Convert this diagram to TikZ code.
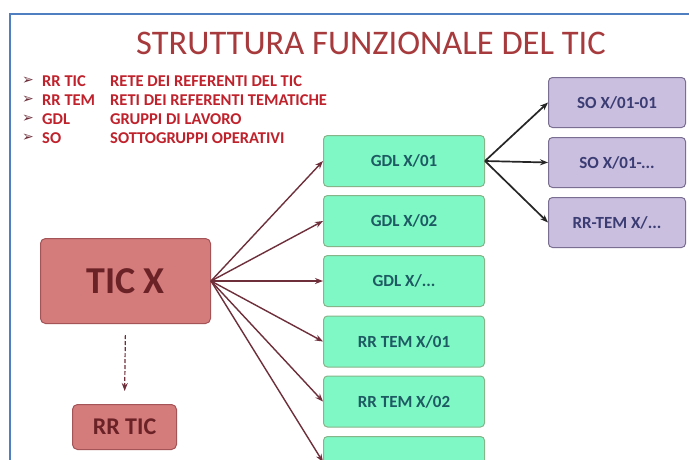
\documentclass[tikz,border=0pt]{standalone}
\usepackage{fontspec}
\setmainfont{Carlito}
\newfontfamily\dejavu{DejaVu Sans}
\usetikzlibrary{positioning,arrows.meta}

\definecolor{framblue}{HTML}{4F7FC0}
\definecolor{titlered}{HTML}{A63A3C}
\definecolor{legendred}{HTML}{C0222C}
\definecolor{ticfill}{HTML}{D47B7C}
\definecolor{ticborder}{HTML}{A45457}
\definecolor{tictext}{HTML}{6B2226}
\definecolor{gdlfill}{HTML}{80F8C5}
\definecolor{gdlborder}{HTML}{86B58A}
\definecolor{gdltext}{HTML}{1D5A63}
\definecolor{sofill}{HTML}{CABFDF}
\definecolor{soborder}{HTML}{7A6F92}
\definecolor{sotext}{HTML}{3A3C73}
\definecolor{ticarrow}{HTML}{6E2F3B}

\tikzset{
  ticbox/.style={draw=ticborder, fill=ticfill, rounded corners=5pt, line width=1pt, text=tictext},
  gdlbox/.style={draw=gdlborder, fill=gdlfill, rounded corners=4pt, line width=1pt,
    minimum width=161pt, minimum height=51pt, text=gdltext, font=\fontsize{17}{20}\selectfont\bfseries},
  sobox/.style={draw=soborder, fill=sofill, rounded corners=4pt, line width=1pt,
    minimum width=137pt, minimum height=50pt, text=sotext, font=\fontsize{17}{20}\selectfont\bfseries},
  abbr/.style={anchor=west, inner sep=0pt, text=legendred, font=\fontsize{16.5}{18}\selectfont\bfseries},
  bullet/.style={anchor=west, inner sep=0pt, text=ticarrow, font=\dejavu\fontsize{14}{15}\selectfont},
  tip/.style={-{Stealth[length=8pt,width=6pt]}},
}

\begin{document}
\begin{tikzpicture}[x=1pt, y=-1pt]
  \useasboundingbox (0,0) rectangle (689,459);
  \clip (0,0) rectangle (689,459);
  \fill[white] (0,0) rectangle (689,459);
  % frame
  \draw[framblue, line width=2pt] (10,470) -- (10,14) -- (700,14);

  \node[text=titlered, font=\fontsize{34.5}{38}\selectfont] (title) at (371,43) {STRUTTURA FUNZIONALE DEL TIC};

  % legend
  \node[bullet] (b1) at (22,81) {➢};
  \node[bullet] (b2) at (22,100) {➢};
  \node[bullet] (b3) at (22,119) {➢};
  \node[bullet] (b4) at (22,138) {➢};
  \node[abbr] (rrtic-k) at (42,81) {RR TIC};
  \node[abbr] (rrtem-k) at (42,100) {RR TEM};
  \node[abbr] (gdl-k) at (42,119) {GDL};
  \node[abbr] (so-k) at (42,138) {SO};
  \node[abbr] (rrtic-v) at (110,81) {RETE DEI REFERENTI DEL TIC};
  \node[abbr] (rrtem-v) at (110,100) {RETI DEI REFERENTI TEMATICHE};
  \node[abbr] (gdl-v) at (110,119) {GRUPPI DI LAVORO};
  \node[abbr] (so-v) at (110,138) {SOTTOGRUPPI OPERATIVI};

  % main boxes
  \node[ticbox, minimum width=170pt, minimum height=85pt, font=\fontsize{38}{40}\selectfont\bfseries] (tic) at (125.5,281) {TIC X};
  \node[ticbox, minimum width=104pt, minimum height=45pt, font=\fontsize{24}{26}\selectfont\bfseries] (rrtic) at (124.5,427) {RR TIC};

  \node[gdlbox] (gdl1) at (404,161) {GDL X/01};
  \node[gdlbox] (gdl2) at (404,221) {GDL X/02};
  \node[gdlbox] (gdl3) at (404,281) {GDL X/...};
  \node[gdlbox] (tem1) at (404,341.5) {RR TEM X/01};
  \node[gdlbox] (tem2) at (404,401.5) {RR TEM X/02};
  \node[gdlbox] (tem3) at (404,462) {};

  \node[sobox] (so1) at (617,102.5) {SO X/01-01};
  \node[sobox] (so2) at (617,162.5) {SO X/01-...};
  \node[sobox] (so3) at (617,222.5) {RR-TEM X/...};

  % connectors
  \draw[tip, ticarrow, line width=1.2pt, dash pattern=on 4pt off 2pt, shorten <=11pt, shorten >=13pt] (tic.south) -- (rrtic.north);
  \foreach \g in {gdl1,gdl2,gdl3,tem1,tem2,tem3}
    \draw[tip, ticarrow, line width=1.4pt] (tic.east) -- (\g.west);
  \foreach \s in {so1,so2,so3}
    \draw[tip, black!85, line width=1.7pt] (gdl1.east) -- (\s.west);
\end{tikzpicture}
\end{document}
